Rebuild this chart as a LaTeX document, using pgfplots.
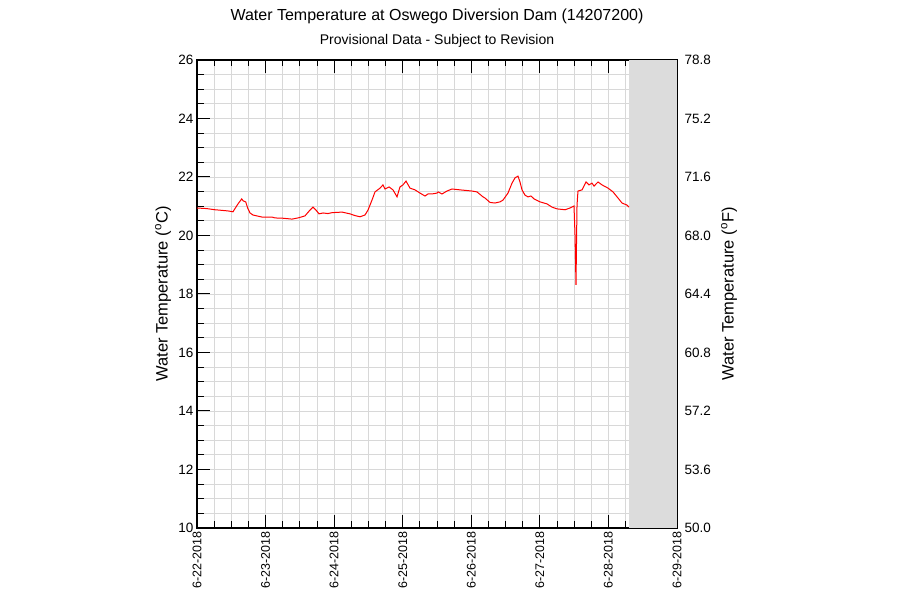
\documentclass[border=0pt]{standalone}
\usepackage{fontspec}
\setmainfont{Liberation Sans}
\usepackage{pgfplots}
\usepackage{pgfplotstable}
\pgfplotsset{compat=1.18}
\definecolor{gridgray}{HTML}{D8D8D8}
\definecolor{shade}{HTML}{DCDCDC}
\pgfplotsset{layers/mylayers/.define layer set={axis background,axis grid,pre main,main,axis ticks,axis lines,axis tick labels,axis descriptions,axis foreground}{}}
\pgfplotstableread{
d T
0 20.94
0.141 20.92
0.2625 20.88
0.452 20.84
0.525 20.81
0.554 20.92
0.598 21.08
0.652 21.25
0.675 21.18
0.710 21.15
0.739 20.94
0.773 20.77
0.817 20.70
0.948 20.63
1.094 20.63
1.1375 20.60
1.254 20.59
1.385 20.56
1.473 20.60
1.575 20.67
1.648 20.87
1.692 20.97
1.735 20.87
1.779 20.74
1.8375 20.77
1.910 20.75
1.969 20.78
2.115 20.80
2.231 20.74
2.304 20.68
2.377 20.64
2.45 20.70
2.494 20.87
2.552 21.21
2.596 21.49
2.669 21.62
2.7125 21.73
2.742 21.59
2.80 21.66
2.858 21.56
2.917 21.32
2.960 21.66
3.004 21.73
3.048 21.86
3.106 21.62
3.179 21.56
3.252 21.45
3.325 21.35
3.369 21.42
3.427 21.42
3.50 21.45
3.515 21.49
3.573 21.42
3.646 21.52
3.719 21.59
3.835 21.56
4.010 21.52
4.083 21.49
4.171 21.32
4.20 21.28
4.273 21.13
4.346 21.11
4.419 21.15
4.4625 21.21
4.535 21.45
4.594 21.79
4.6375 21.97
4.681 22.03
4.71 21.83
4.74 21.56
4.783 21.38
4.827 21.32
4.871 21.35
4.915 21.25
5.002 21.15
5.104 21.08
5.177 20.97
5.25 20.91
5.367 20.88
5.44 20.94
5.498 21.01
5.5125 20.02
5.52 19.16
5.527 18.31
5.535 19.85
5.542 21.04
5.556 21.52
5.615 21.56
5.629 21.62
5.673 21.83
5.717 21.73
5.760 21.79
5.79 21.69
5.848 21.83
5.906 21.73
5.994 21.62
6.067 21.49
6.140 21.28
6.198 21.11
6.271 21.04
6.30 20.97
}\temps
\begin{document}
\begin{tikzpicture}[x=1bp,y=1bp]
\begin{axis}[
  set layers=mylayers,
  at={(0,0)}, anchor=south west,
  scale only axis, width=480bp, height=468bp,
  xmin=0, xmax=7, ymin=10, ymax=26,
  xtick={0,1,2,3,4,5,6,7},
  xticklabels={6-22-2018,6-23-2018,6-24-2018,6-25-2018,6-26-2018,6-27-2018,6-28-2018,6-29-2018},
  minor x tick num=3,
  ytick={10,12,14,16,18,20,22,24,26},
  minor y tick num=3,
  tick align=inside,
  major tick length=13bp, minor tick length=6.5bp,
  tick style={black, line width=1bp},
  axis line style={black, line width=1.2bp},
  grid=both,
  major grid style={gridgray, line width=0.9bp},
  minor grid style={gridgray, line width=0.9bp},
  yticklabel pos=left,
  /pgf/number format/assume math mode=true,
  yticklabel style={font=\fontsize{13.5bp}{15bp}\selectfont},
  xticklabel style={font=\fontsize{12.5bp}{14bp}\selectfont, rotate=90, anchor=east},
  ylabel={Water Temperature (\textsuperscript{o}C)},
  ylabel style={font=\fontsize{16.5bp}{19bp}\selectfont, at={(axis description cs:0,0.5)}, anchor=center, yshift=34bp},
  clip=false,
]
\addplot[fill=shade, draw=none] coordinates {(6.3,26) (7,26)} \closedcycle;
\addplot[red, line width=1bp] table[x=d, y=T] {\temps};
\node[font=\fontsize{16bp}{19bp}\selectfont] at (axis description cs:0.5,1) [yshift=44bp] {Water Temperature at Oswego Diversion Dam (14207200)};
\node[font=\fontsize{14bp}{17bp}\selectfont] at (axis description cs:0.5,1) [yshift=19bp] {Provisional Data - Subject to Revision};
\begin{scope}[every node/.style={font=\fontsize{13.5bp}{15bp}\selectfont, anchor=west, xshift=4bp}]
\node at (axis description cs:1,0) {50.0};
\node at (axis description cs:1,0.125) {53.6};
\node at (axis description cs:1,0.25) {57.2};
\node at (axis description cs:1,0.375) {60.8};
\node at (axis description cs:1,0.5) {64.4};
\node at (axis description cs:1,0.625) {68.0};
\node at (axis description cs:1,0.75) {71.6};
\node at (axis description cs:1,0.875) {75.2};
\node at (axis description cs:1,1) {78.8};
\end{scope}
\node[font=\fontsize{16.5bp}{19bp}\selectfont, rotate=90, anchor=center] at (axis description cs:1,0.5) [yshift=-52bp] {Water Temperature (\textsuperscript{o}F)};
\end{axis}
\path (-197,-72) rectangle (703,528);
\end{tikzpicture}
\end{document}
